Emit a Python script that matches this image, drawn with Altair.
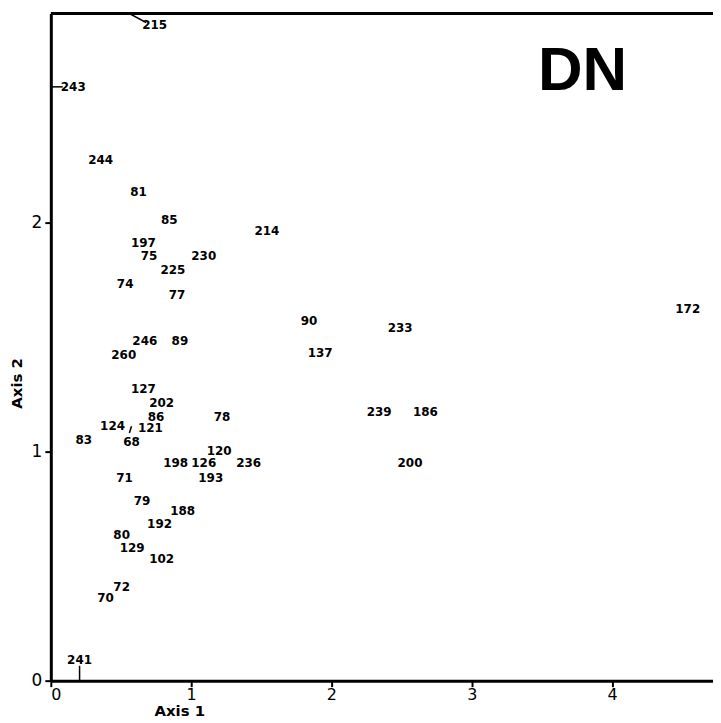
import altair as alt
import pandas as pd

labels = ["215", "243", "244", "81", "85", "214", "197", "75", "230", "225",
          "74", "77", "90", "233", "172", "246", "89", "260", "137", "127",
          "202", "86", "78", "239", "186", "124", "121", "83", "68", "120",
          "198", "126", "236", "200", "71", "193", "79", "188", "192", "80",
          "129", "102", "72", "70", "241"]
axis1 = [0.74, 0.16, 0.355, 0.625, 0.845, 1.54, 0.66, 0.70, 1.09, 0.87,
         0.53, 0.90, 1.84, 2.49, 4.54, 0.67, 0.92, 0.52, 1.92, 0.66,
         0.79, 0.75, 1.22, 2.34, 2.67, 0.44, 0.71, 0.235, 0.575, 1.20,
         0.89, 1.09, 1.41, 2.56, 0.525, 1.14, 0.65, 0.94, 0.775, 0.505,
         0.58, 0.79, 0.505, 0.39, 0.205]
axis2 = [2.86, 2.59, 2.27, 2.13, 2.01, 1.96, 1.91, 1.85, 1.85, 1.79,
         1.73, 1.68, 1.57, 1.54, 1.62, 1.48, 1.48, 1.42, 1.43, 1.27,
         1.21, 1.15, 1.15, 1.17, 1.17, 1.11, 1.10, 1.05, 1.04, 1.00,
         0.95, 0.95, 0.95, 0.95, 0.885, 0.885, 0.785, 0.74, 0.685, 0.635,
         0.58, 0.53, 0.41, 0.36, 0.09]

# leader lines (data units)
lead_x = [0.56, 0.0, 0.205, 0.56]
lead_y = [2.91, 2.59, 0.065, 1.08]
lead_x2 = [0.68, 0.085, 0.205, 0.575]
lead_y2 = [2.87, 2.59, 0.0, 1.11]

x_ticks = [0, 1, 2, 3, 4]
y_ticks = [0, 1, 2]
x_max = 4.72
y_max = 2.91

pts = pd.DataFrame({"label": labels, "a1": axis1, "a2": axis2})
leads = pd.DataFrame({"x": lead_x, "y": lead_y, "x2": lead_x2, "y2": lead_y2})

xs = alt.Scale(domain=[0, x_max], nice=False, zero=False)
ys = alt.Scale(domain=[0, y_max], nice=False, zero=False)

xaxis = alt.Axis(values=x_ticks, format="d", title="Axis 1", grid=False, domainWidth=3,
                 domainColor="black", tickColor="black", tickWidth=2, tickSize=6,
                 labelFontSize=16, labelFont="DejaVu Sans", labelColor="black",
                 labelPadding=0, titleFontSize=15, titleFont="DejaVu Sans",
                 titleFontWeight="bold", titleColor="black", titleX=129,
                 titleY=38, titleBaseline="bottom", titleAnchor="middle")
yaxis = alt.Axis(values=y_ticks, format="d", title="Axis 2", grid=False, domainWidth=3,
                 domainColor="black", tickColor="black", tickWidth=2, tickSize=6,
                 labelFontSize=17, labelFont="DejaVu Sans", labelColor="black",
                 labelPadding=3, titleFontSize=15, titleFont="DejaVu Sans",
                 titleFontWeight="bold", titleColor="black", titleX=-26,
                 titleY=371, titleAnchor="middle")

text = alt.Chart(pts).mark_text(font="DejaVu Sans", fontWeight="bold",
                                fontSize=12, color="black").encode(
    x=alt.X("a1:Q", scale=xs, axis=xaxis),
    y=alt.Y("a2:Q", scale=ys, axis=yaxis),
    text="label:N",
)

leaders = alt.Chart(leads).mark_rule(color="black", strokeWidth=1.5).encode(
    x="x:Q", y="y:Q", x2="x2:Q", y2="y2:Q"
)

topline = alt.Chart(pd.DataFrame({"y": [y_max]})).mark_rule(
    color="black", strokeWidth=3).encode(y=alt.Y("y:Q", scale=ys))

dn = alt.Chart(pd.DataFrame({"x": [3.79], "y": [2.66], "t": ["DN"]})).mark_text(
    font="Liberation Sans", fontWeight="bold", fontSize=62, color="black"
).encode(x="x:Q", y="y:Q", text="t:N")

chart = alt.layer(topline, leaders, text, dn).properties(
    width=665, height=670,
    padding={"left": 43, "top": 4, "right": 0, "bottom": 38},
    autosize="none",
).configure_view(stroke=None).configure(background="white")

chart.save("out.html", embed_options={"renderer": "svg", "actions": False})
